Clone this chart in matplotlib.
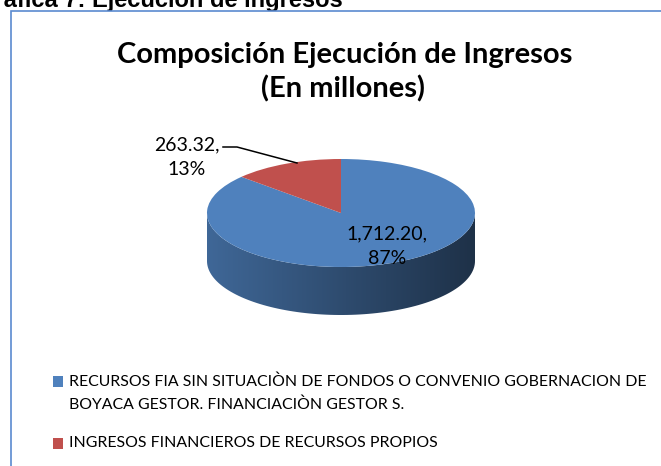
import textwrap
import numpy as np
import matplotlib.pyplot as plt
from matplotlib.patches import Wedge, Polygon, Rectangle
from matplotlib.transforms import Affine2D
from matplotlib.colors import to_rgb

plt.rcParams['font.family'] = ['Lato', 'DejaVu Sans']

# data
categories = ['RECURSOS FIA SIN SITUACIÒN DE FONDOS O CONVENIO GOBERNACION DE '
              'BOYACA GESTOR. FINANCIACIÒN GESTOR S.',
              'INGRESOS FINANCIEROS DE RECURSOS PROPIOS']
values = [1712.20, 263.32]
colors = ['#4F81BD', '#C0504D']
title_lines = ['Composición Ejecución de Ingresos', '(En millones)']
header = 'Gráfica 7: Ejecución de ingresos'

W, H = 661, 466
fig = plt.figure(figsize=(W / 100, H / 100), dpi=100)
ax = fig.add_axes([0, 0, 1, 1])
ax.set_xlim(0, W)
ax.set_ylim(H, 0)
ax.axis('off')

# caption of the document, hidden under the chart box
ax.text(343, 7, header, ha='right', va='baseline', fontsize=17,
        fontweight='bold', family='Liberation Sans', zorder=1)
ax.add_patch(Rectangle((10.5, 11), 800, 600, facecolor='white',
                       edgecolor='#5A8AD0', lw=1.2, zorder=2))

# title
ax.text(345, 63, title_lines[0], ha='center', va='baseline', fontsize=21,
        fontweight='bold', zorder=3)
ax.text(343, 97, title_lines[1], ha='center', va='baseline', fontsize=21,
        fontweight='bold', zorder=3)

# 3d-looking pie
cx, cy, a, b, depth = 341, 213, 134, 54, 48
total = sum(values)
fracs = [v / total for v in values]
to_px = Affine2D().scale(a, -b).translate(cx, cy) + ax.transData

start = 90
spans = []
for f in fracs:
    spans.append((start - f * 360, start))
    start -= f * 360

# side walls (front half only)
for (t1, t2), col in zip(spans, colors):
    for k in (-2, -1, 0, 1):
        lo, hi = max(t1, 180 + 360 * k), min(t2, 360 + 360 * k)
        if hi <= lo:
            continue
        th = np.radians(np.linspace(lo, hi, 100))
        xs = cx + a * np.cos(th)
        ys = cy - b * np.sin(th)
        pts = np.vstack([np.column_stack([xs, ys]),
                         np.column_stack([xs, ys + depth])[::-1]])
        poly = Polygon(pts, closed=True, facecolor='none', edgecolor='none')
        ax.add_patch(poly)
        g = np.linspace(0, 1, 256)
        base = np.array(to_rgb(col))
        shade = 0.80 - 0.42 * g
        img = (base[None, :] * shade[:, None])[None, :, :]
        im = ax.imshow(img, extent=(xs.min(), xs.max(), ys.max() + depth + 2,
                                    cy - 2), aspect='auto',
                       interpolation='bilinear', zorder=4)
        im.set_clip_path(poly)

for (t1, t2), col in zip(spans, colors):
    w = Wedge((0, 0), 1, t1, t2, facecolor=col, edgecolor='none', zorder=5)
    w.set_transform(to_px)
    ax.add_patch(w)

ax.set_xlim(0, W)
ax.set_ylim(H, 0)

# data labels
labels = [f'{v:,.2f},\n{f:.0%}' for v, f in zip(values, fracs)]
label_pos = [(387, 246), (187, 157)]
for txt, (lx, ly) in zip(labels, label_pos):
    ax.text(lx, ly, txt, ha='center', va='center', fontsize=14,
            linespacing=1.55, color='black', zorder=6)
ax.plot([223, 237, 297], [147, 147, 163], color='black', lw=1.1, zorder=6)

# legend
leg_y = [381, 443]
for cat, col, ly in zip(categories, colors, leg_y):
    ax.add_patch(Rectangle((53, ly - 5.5), 10, 11, facecolor=col,
                           edgecolor='none', zorder=6))
    ax.text(69, ly - 7, textwrap.fill(cat, 64), ha='left', va='top',
            fontsize=11.4, linespacing=1.75, zorder=6)

fig.savefig('out.png', dpi=100)
